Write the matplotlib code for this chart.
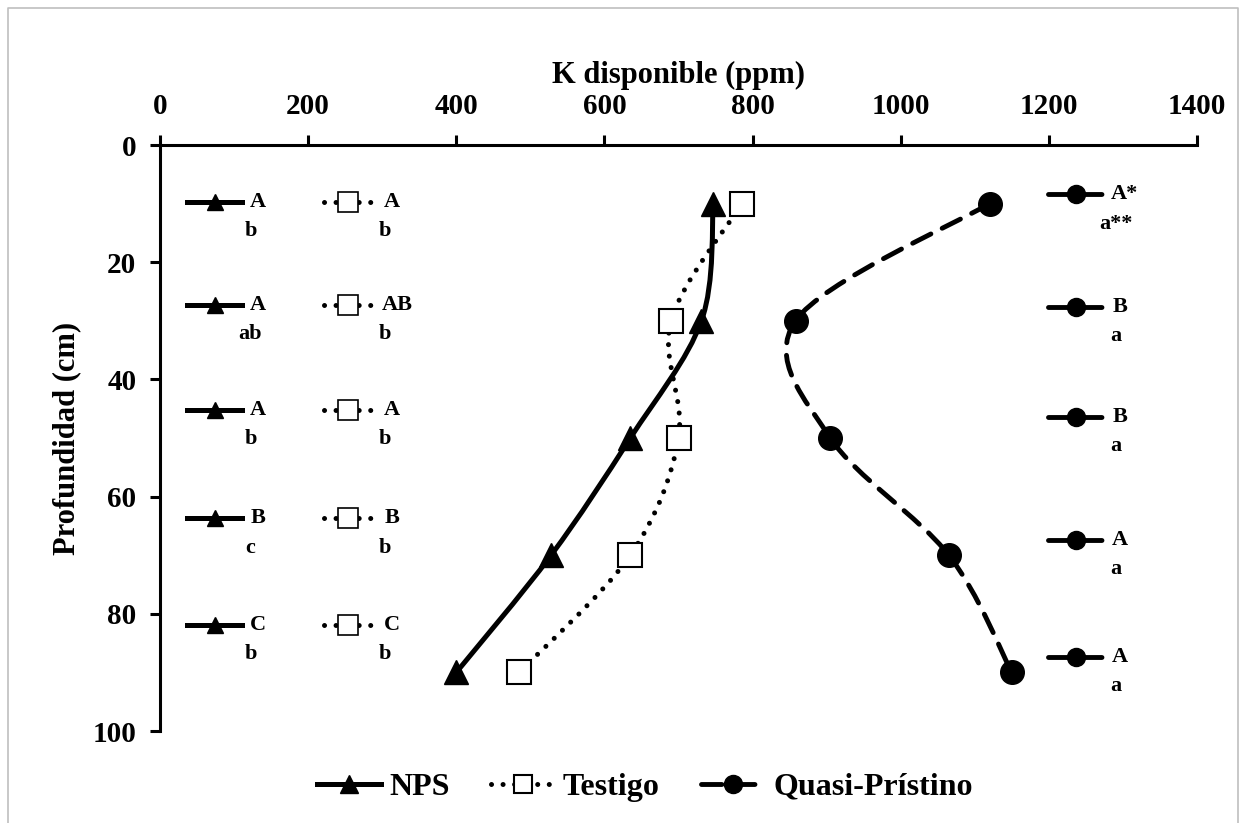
import numpy as np
import matplotlib.pyplot as plt
from matplotlib.path import Path
from matplotlib.patches import PathPatch
from matplotlib.lines import Line2D

plt.rcParams['font.family'] = ['Liberation Serif', 'DejaVu Serif']
plt.rcParams['font.weight'] = 'bold'

# data (ppm vs depth)
depth = [10, 30, 50, 70, 90]
k_nps = [747, 731, 635, 528, 400]
k_testigo = [786, 690, 700, 635, 485]
k_quasi = [1120, 858, 905, 1065, 1150]

# significance letters
nps_upper = ['A', 'A', 'A', 'B', 'C']
nps_lower = ['b', 'ab', 'b', 'c', 'b']
testigo_upper = ['A', 'AB', 'A', 'B', 'C']
testigo_lower = ['b', 'b', 'b', 'b', 'b']
quasi_upper = ['A*', 'B', 'B', 'A', 'A']
quasi_lower = ['a**', 'a', 'a', 'a', 'a']

# styles
sty_nps = dict(color='black', lw=3.6, ls='-')
sty_testigo = dict(color='black', lw=3.6, ls=(0, (0.01, 2.3)), dash_capstyle='round')
sty_quasi = dict(color='black', lw=3.5, ls=(0, (4.2, 2.6)), dash_capstyle='round')
mk_nps = dict(marker='^', ms=17, mfc='black', mec='black')
mk_testigo = dict(marker='s', ms=17, mfc='white', mec='black', mew=1.5)
mk_quasi = dict(marker='o', ms=17, mfc='black', mec='black')


def smooth_path(xs, ys):
    # catmull-rom -> cubic bezier (excel style smoothed line)
    p = np.column_stack([xs, ys]).astype(float)
    p = np.vstack([p[0], p, p[-1]])
    verts = [p[1]]
    codes = [Path.MOVETO]
    for i in range(1, len(p) - 2):
        c1 = p[i] + (p[i + 1] - p[i - 1]) / 6
        c2 = p[i + 1] - (p[i + 2] - p[i]) / 6
        verts += [c1, c2, p[i + 1]]
        codes += [Path.CURVE4] * 3
    return Path(verts, codes)


fig = plt.figure(figsize=(12.46, 8.23), dpi=100)
ax = fig.add_axes([160 / 1246, 1 - 731 / 823, (1197 - 160) / 1246, (731 - 145) / 823])

for k, sty, mk in [(k_nps, sty_nps, mk_nps), (k_testigo, sty_testigo, mk_testigo),
                   (k_quasi, sty_quasi, mk_quasi)]:
    patch = PathPatch(smooth_path(k, depth), fill=False, edgecolor=sty['color'],
                      lw=sty['lw'], ls=sty['ls'], capstyle='round', zorder=2)
    ax.add_patch(patch)
    ax.plot(k, depth, ls='none', zorder=3, clip_on=False, **mk)

# little keys with letters
rows_left = [9.7, 27.3, 45.2, 63.7, 81.9]
rows_right = [8.4, 27.6, 46.4, 67.4, 87.4]
off = 5.0
fs_ann = 16


def key(xc, half, y, sty, mk, ms):
    m = dict(mk)
    m['ms'] = ms
    if 'mew' in m:
        m['mew'] = 1.2
    ax.plot([xc - half, xc, xc + half], [y, y, y], markevery=[1], clip_on=False,
            zorder=3, **sty, **m)


for i in range(5):
    y = rows_left[i]
    key(74, 37, y, sty_nps, mk_nps, 12)
    ax.text(132, y, nps_upper[i], ha='center', va='center', fontsize=fs_ann)
    ax.text(122, y + off, nps_lower[i], ha='center', va='center', fontsize=fs_ann)
    key(254, 33, y, sty_testigo, mk_testigo, 14)
    ax.text(313 if len(testigo_upper[i]) == 1 else 321, y, testigo_upper[i],
            ha='center', va='center', fontsize=fs_ann)
    ax.text(304, y + off, testigo_lower[i], ha='center', va='center', fontsize=fs_ann)
    y = rows_right[i]
    key(1236, 37, y, sty_quasi, mk_quasi, 13)
    ax.text(1302 if len(quasi_upper[i]) > 1 else 1296, y, quasi_upper[i],
            ha='center', va='center', fontsize=fs_ann, clip_on=False)
    ax.text(1291, y + off, quasi_lower[i], ha='center', va='center', fontsize=fs_ann,
            clip_on=False)

ax.set_xlim(0, 1400)
ax.set_ylim(100, 0)
ax.set_xticks(np.arange(0, 1401, 200))
ax.set_yticks(np.arange(0, 101, 20))
ax.xaxis.tick_top()
ax.xaxis.set_label_position('top')
ax.spines['right'].set_visible(False)
ax.spines['bottom'].set_visible(False)
ax.spines['left'].set_linewidth(2.2)
ax.spines['top'].set_linewidth(2.2)
ax.tick_params(direction='out', length=7, width=2.2, labelsize=21)
ax.tick_params(axis='x', pad=11)
ax.tick_params(axis='y', pad=10)
ax.set_xlabel('K disponible (ppm)', fontsize=22, fontweight='bold', labelpad=7)
ax.set_ylabel('Profundidad (cm)', fontsize=22, fontweight='bold', labelpad=8)

handles = [
    Line2D([], [], **sty_nps, **mk_nps),
    Line2D([], [], **sty_testigo, **mk_testigo),
    Line2D([], [], **sty_quasi, **mk_quasi),
]
for h in handles:
    h.set_markersize(13)
fig.legend(handles, ['NPS', 'Testigo', 'Quasi-Prístino'], loc='center',
           bbox_to_anchor=(645 / 1246, 1 - 787 / 823), ncol=3, frameon=False,
           fontsize=23, handlelength=2.0, columnspacing=1.3, handletextpad=0.25,
           numpoints=1)

# outer chart border
fig.add_artist(Line2D([8 / 1246, 8 / 1246, 1238 / 1246, 1238 / 1246],
                      [0, 1 - 8 / 823, 1 - 8 / 823, 0],
                      color='#bfbfbf', lw=1.2, transform=fig.transFigure))

fig.savefig('out.png', dpi=100)
